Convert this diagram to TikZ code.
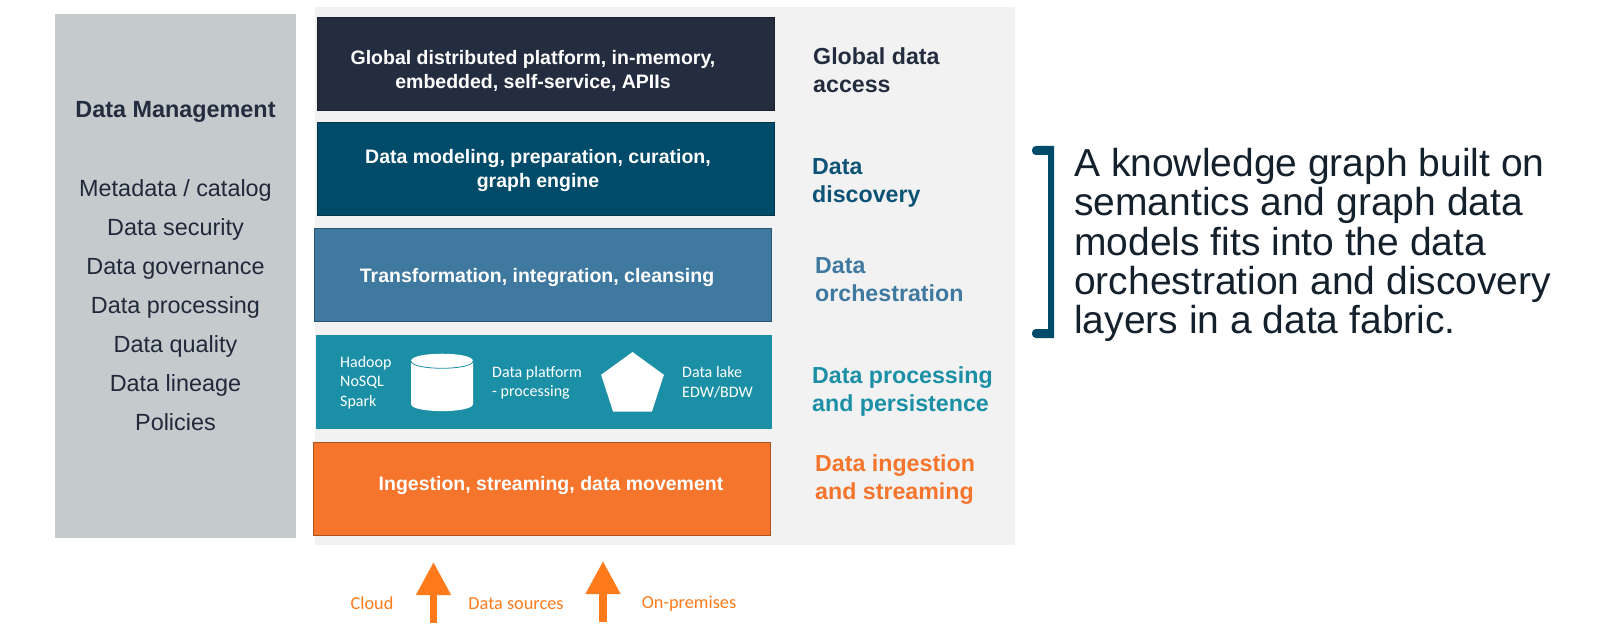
\documentclass[tikz,border=0pt]{standalone}
\usepackage{fontspec}
\setmainfont{Liberation Sans}
\newfontfamily\smallfont{Carlito}
\usepackage{tikz}
\usetikzlibrary{arrows.meta,positioning,shapes.geometric}
\definecolor{AccessNavy}{HTML}{242D3F}
\definecolor{DiscoveryBlue}{HTML}{004A6A}
\definecolor{OrchBlue}{HTML}{3F799F}
\definecolor{PersistTeal}{HTML}{1A8FA6}
\definecolor{IngestOrange}{HTML}{F5752D}
\definecolor{ArrowOrange}{HTML}{FF7A1A}
\definecolor{PanelGray}{HTML}{C5CACD}
\definecolor{BackGray}{HTML}{F2F2F2}
\definecolor{InkDark}{HTML}{14202B}

\begin{document}
\begin{tikzpicture}[x=1pt,y=-1pt,
layer/.style={draw=#1!70!black,fill=#1,line width=1pt,minimum width=457pt,minimum height=93pt,inner sep=0pt},
layertext/.style={text=white,align=center,font=\fontsize{19.5}{23.5}\selectfont\bfseries,inner sep=0pt},
side/.style={text=#1,align=left,font=\fontsize{23.2}{28}\selectfont\bfseries,inner sep=0pt},
small/.style={text=white,align=left,font=\fontsize{16}{19.5}\smallfont,inner sep=0pt},
source/.style={text=ArrowOrange,font=\fontsize{18.3}{22}\smallfont,inner sep=0pt},
flow/.style={-{Triangle[width=33pt,length=33pt]},line width=7.5pt,ArrowOrange}]
\useasboundingbox (0,0) rectangle (1600,639);
\node[fill=BackGray,minimum width=700pt,minimum height=538pt,inner sep=0pt] (back) at (665,276) {};
\node[fill=PanelGray,minimum width=241pt,minimum height=524pt,inner sep=0pt] (panel) at (175.5,276) {};
\node[text=AccessNavy,font=\fontsize{23.4}{28}\selectfont\bfseries,inner sep=0pt] (manage) at (175.5,112) {Data Management};
\node[below=57pt of manage,align=center,text=AccessNavy!90!black,font=\fontsize{23.4}{39}\selectfont,inner sep=0pt,anchor=north] (tasks) {Metadata / catalog\\Data security\\Data governance\\Data processing\\Data quality\\Data lineage\\Policies};
% the stack
\node[layer=AccessNavy] (access) at (545.5,64) {};
\node[layer=DiscoveryBlue,below=11pt of access] (discovery) {};
\node[layer=OrchBlue,below=12pt of discovery,xshift=-3pt] (orch) {};
\node[fill=PersistTeal,minimum width=456pt,minimum height=94pt,inner sep=0pt,below=13pt of orch,xshift=1pt] (persist) {};
\node[layer=IngestOrange,below=13pt of persist,xshift=-2pt] (ingest) {};
\node[layertext] (accesstext) at (533,71) {Global distributed platform, in-memory,\\embedded, self-service, APIIs};
\node[layertext] (discoverytext) at (538,170.5) {Data modeling, preparation, curation,\\graph engine};
\node[layertext] (orchtext) at (537,278) {Transformation, integration, cleansing};
\node[layertext] (ingesttext) at (551,485) {Ingestion, streaming, data movement};
% inside the teal layer
\node[small,anchor=west] (hadoop) at (340,382.5) {Hadoop\\NoSQL\\Spark};
\fill[white] (411,361)--(411,404) .. controls (411,413.5) and (473,413.5) .. (473,404)--(473,361) .. controls (473,351.3) and (411,351.3) .. (411,361);
\draw[PersistTeal,line width=0.8pt] (411,361) .. controls (411,370.7) and (473,370.7) .. (473,361);
\node[small,anchor=west] (platform) at (492,383) {Data platform\\- processing};
\node[regular polygon,regular polygon sides=5,fill=white,minimum size=66pt,inner sep=0pt] (lake) at (632.5,385) {};
\node[small,anchor=west] (laketext) at (682,382.5) {Data lake\\EDW/BDW};
% side labels
\node[side=AccessNavy,anchor=west] (accesslabel) at (813,70.5) {Global data\\access};
\node[side=DiscoveryBlue!80!OrchBlue,anchor=west] (discoverylabel) at (812,183) {Data\\discovery};
\node[side=OrchBlue,anchor=west] (orchlabel) at (815,280) {Data\\orchestration};
\node[side=PersistTeal,anchor=west] (persistlabel) at (812,391.5) {Data processing\\and persistence};
\node[side=IngestOrange,anchor=west] (ingestlabel) at (815,480) {Data ingestion\\and streaming};
% sources
\node[source] (cloud) at (372,603) {Cloud};
\node[source] (sources) at (516,604) {Data sources};
\node[source] (onprem) at (689,604) {On-premises};
\coordinate (cloudfoot) at (433.5,623);
\coordinate (cloudtip) at (433.5,562);
\coordinate (premfoot) at (603,622);
\coordinate (premtip) at (603,561);
\draw[flow] (cloudfoot)--(cloudtip);
\draw[flow] (premfoot)--(premtip);
% bracket and note
\fill[DiscoveryBlue] (1054,146)--(1054,338)[rounded corners=4pt]--(1032,338)--(1032,329)[sharp corners]--(1048,329)--(1048,155)[rounded corners=4pt]--(1032,155)--(1032,146)[sharp corners]--cycle;
\node[anchor=west,align=left,text=InkDark,font=\fontsize{39}{39.3}\selectfont,inner sep=0pt] (note) at (1074,245) {A knowledge graph built on\\semantics and graph data\\models fits into the data\\orchestration and discovery\\layers in a data fabric.};
\end{tikzpicture}
\end{document}
